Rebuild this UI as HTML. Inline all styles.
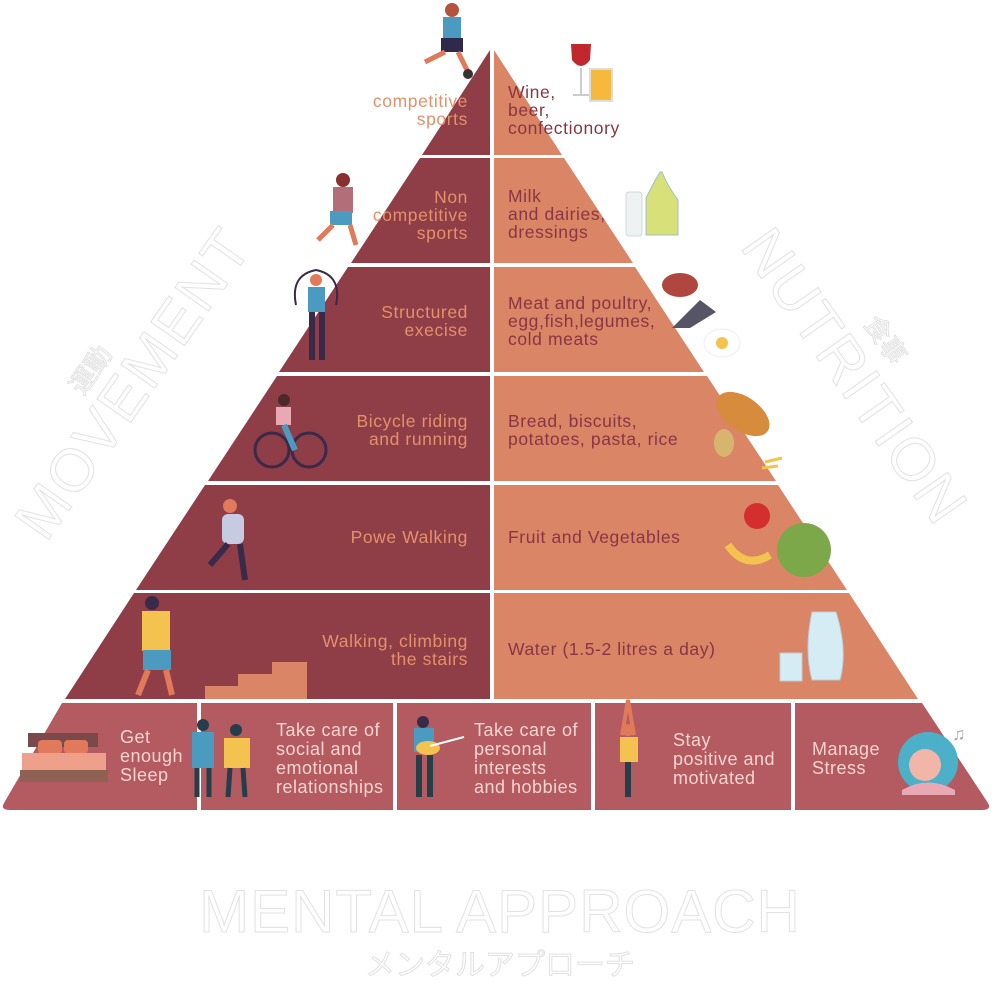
<!DOCTYPE html>
<html><head><meta charset="utf-8"><style>
html,body{margin:0;padding:0;background:#fff;width:992px;height:984px;overflow:hidden}
svg{display:block}
text{font-family:"Liberation Sans","Noto Sans CJK JP",sans-serif}
.l{fill:#e3916c;font-size:17.5px;letter-spacing:0.6px;text-anchor:end}
.r{fill:#8a3543;font-size:17.5px;letter-spacing:0.6px}
.b{fill:#f7d3d0;font-size:18px;letter-spacing:0.5px}
.o{fill:none;stroke:#e2e2e2;stroke-width:1}
</style></head><body>
<svg width="992" height="984" viewBox="0 0 992 984" xmlns="http://www.w3.org/2000/svg">
<!-- watermarks -->
<text class="o" font-size="60" letter-spacing="2" transform="translate(150,395) rotate(-55)" text-anchor="middle">MOVEMENT</text>
<text class="o" font-size="26" transform="translate(98,375) rotate(-55)" text-anchor="middle">運動</text>
<text class="o" font-size="60" letter-spacing="2" transform="translate(838,388) rotate(55)" text-anchor="middle">NUTRITION</text>
<text class="o" font-size="26" transform="translate(878,345) rotate(55)" text-anchor="middle">食事</text>
<text class="o" font-size="60" x="500" y="932" text-anchor="middle" letter-spacing="1">MENTAL APPROACH</text>
<text class="o" font-size="30" x="500" y="975" text-anchor="middle">メンタルアプローチ</text>

<!-- left half -->
<g fill="#8f3d47">
<path d="M490,50 L490,155 L422,155 Z"/>
<path d="M420,158 L490,158 L490,263 L351,263 Z"/>
<path d="M348,267 L490,267 L490,372 L279,372 Z"/>
<path d="M277,376 L490,376 L490,481 L208,481 Z"/>
<path d="M205,485 L490,485 L490,590 L136,590 Z"/>
<path d="M134,593 L490,593 L490,699 L65,699 Z"/>
</g>
<g fill="#d98566">
<path d="M494,50 L494,155 L562,155 Z"/>
<path d="M494,158 L564,158 L633,263 L494,263 Z"/>
<path d="M494,267 L635,267 L704,372 L494,372 Z"/>
<path d="M494,376 L707,376 L776,481 L494,481 Z"/>
<path d="M494,485 L778,485 L847,590 L494,590 Z"/>
<path d="M494,593 L849,593 L918,699 L494,699 Z"/>
</g>
<!-- bottom -->
<g fill="#b35b60">
<path d="M62,703 L197,703 L197,810 L10,810 Q0,810 4,803 Z"/>
<rect x="201" y="703" width="192" height="107"/>
<rect x="397" y="703" width="194" height="107"/>
<rect x="595" y="703" width="196" height="107"/>
<path d="M795,703 L922,703 L988,803 Q992,810 982,810 L795,810 Z"/>
</g>

<!-- left labels -->
<text class="l" x="468" y="107">competitive</text><text class="l" x="468" y="125">sports</text>
<text class="l" x="468" y="203">Non</text><text class="l" x="468" y="221">competitive</text><text class="l" x="468" y="239">sports</text>
<text class="l" x="468" y="318">Structured</text><text class="l" x="468" y="336">execise</text>
<text class="l" x="468" y="427">Bicycle riding</text><text class="l" x="468" y="445">and running</text>
<text class="l" x="468" y="543">Powe Walking</text>
<text class="l" x="468" y="647">Walking, climbing</text><text class="l" x="468" y="665">the stairs</text>
<!-- right labels -->
<text class="r" x="508" y="98">Wine,</text><text class="r" x="508" y="116">beer,</text><text class="r" x="508" y="134">confectionory</text>
<text class="r" x="508" y="202">Milk</text><text class="r" x="508" y="220">and dairies,</text><text class="r" x="508" y="238">dressings</text>
<text class="r" x="508" y="309">Meat and poultry,</text><text class="r" x="508" y="327">egg,fish,legumes,</text><text class="r" x="508" y="345">cold meats</text>
<text class="r" x="508" y="427">Bread, biscuits,</text><text class="r" x="508" y="445">potatoes, pasta, rice</text>
<text class="r" x="508" y="543">Fruit and Vegetables</text>
<text class="r" x="508" y="655">Water (1.5-2 litres a day)</text>
<!-- bottom labels -->
<text class="b" x="120" y="743">Get</text><text class="b" x="120" y="762">enough</text><text class="b" x="120" y="781">Sleep</text>
<text class="b" x="276" y="736">Take care of</text><text class="b" x="276" y="755">social and</text><text class="b" x="276" y="774">emotional</text><text class="b" x="276" y="793">relationships</text>
<text class="b" x="474" y="736">Take care of</text><text class="b" x="474" y="755">personal</text><text class="b" x="474" y="774">interests</text><text class="b" x="474" y="793">and hobbies</text>
<text class="b" x="673" y="746">Stay</text><text class="b" x="673" y="765">positive and</text><text class="b" x="673" y="784">motivated</text>
<text class="b" x="812" y="755">Manage</text><text class="b" x="812" y="774">Stress</text>

<!-- simple illustrations -->
<path d="M205,699 L205,686 L238,686 L238,674 L272,674 L272,662 L307,662 L307,699 Z" fill="#d98566"/>
<g>
<circle cx="452" cy="10" r="7" fill="#b4543f"/><rect x="443" y="17" width="18" height="22" fill="#4b9bc0"/><rect x="441" y="38" width="22" height="14" fill="#2f2a4a"/><path d="M445,52 L425,62 M458,52 L468,72" stroke="#e07a5a" stroke-width="5"/><circle cx="468" cy="74" r="5" fill="#333"/>
<circle cx="343" cy="180" r="7" fill="#8a2f30"/><rect x="333" y="187" width="20" height="26" fill="#b26f7a"/><rect x="330" y="211" width="22" height="14" fill="#4b9bc0"/><path d="M333,225 L318,240 M350,225 L356,245" stroke="#e07a5a" stroke-width="5"/>
<path d="M296,305 Q290,275 316,270 Q342,275 336,305" stroke="#3a2a4a" stroke-width="2" fill="none"/><circle cx="316" cy="280" r="6" fill="#e07a5a"/><rect x="308" y="287" width="17" height="25" fill="#4b9bc0"/><path d="M312,312 L312,360 M322,312 L322,360" stroke="#3a2a4a" stroke-width="6"/>
<circle cx="272" cy="450" r="17" stroke="#3a2a4a" stroke-width="3" fill="none"/><circle cx="309" cy="450" r="17" stroke="#3a2a4a" stroke-width="3" fill="none"/><circle cx="284" cy="400" r="6" fill="#4a2a2a"/><rect x="276" y="407" width="15" height="18" fill="#e8a9b5"/><path d="M284,425 L295,450" stroke="#4b9bc0" stroke-width="6"/>
<circle cx="230" cy="506" r="7" fill="#e07a5a"/><rect x="222" y="514" width="22" height="30" rx="6" fill="#c6cbe2"/><path d="M228,544 L210,565 M240,544 L245,580" stroke="#3a2a4a" stroke-width="6"/>
<circle cx="152" cy="603" r="7" fill="#3a2a4a"/><rect x="142" y="611" width="28" height="40" fill="#f4c24f"/><rect x="143" y="650" width="28" height="20" fill="#4b9bc0"/><path d="M148,670 L138,695 M166,670 L172,695" stroke="#e07a5a" stroke-width="6"/>
<rect x="28" y="733" width="70" height="14" fill="#7a4a4a"/><rect x="38" y="740" width="24" height="14" rx="4" fill="#e07a5a"/><rect x="64" y="740" width="24" height="14" rx="4" fill="#e07a5a"/><rect x="22" y="753" width="84" height="18" fill="#eea08a"/><rect x="20" y="770" width="88" height="12" fill="#8f6155"/>
<rect x="192" y="732" width="22" height="36" fill="#4b9bc0"/><path d="M197,768 L197,797 M209,768 L209,797" stroke="#263d4a" stroke-width="5"/><circle cx="203" cy="725" r="6" fill="#263d4a"/>
<rect x="224" y="738" width="26" height="30" fill="#f4c24f"/><path d="M230,768 L228,797 M243,768 L245,797" stroke="#263d4a" stroke-width="5"/><circle cx="236" cy="730" r="6" fill="#263d4a"/>
<circle cx="423" cy="722" r="6" fill="#3a2a4a"/><rect x="414" y="728" width="20" height="24" fill="#4b9bc0"/><ellipse cx="428" cy="748" rx="12" ry="7" fill="#f4c24f"/><path d="M430,746 L464,737" stroke="#fff" stroke-width="2"/><path d="M419,755 L419,797 M430,755 L430,797" stroke="#263d4a" stroke-width="6"/>
<path d="M622,735 L628,700 L634,735" stroke="#e07a5a" stroke-width="4" fill="none"/><circle cx="628" cy="730" r="6" fill="#e07a5a"/><rect x="620" y="737" width="18" height="25" fill="#f4c24f"/><path d="M628,762 L628,797" stroke="#263d4a" stroke-width="6"/>
<circle cx="928" cy="762" r="30" fill="#4bb0c8"/><circle cx="925" cy="765" r="16" fill="#f2b6a8"/><path d="M902,790 Q928,775 955,790 L955,795 L902,795 Z" fill="#e8a9b5"/>
<text x="952" y="740" font-size="18" fill="#aaa">♫</text>
<path d="M571,44 L591,44 L590,60 Q581,72 572,60 Z" fill="#c0282d"/><path d="M581,68 L581,94 M573,95 L589,95" stroke="#ccc" stroke-width="2"/>
<rect x="590" y="69" width="22" height="32" fill="#f6b93b" stroke="#ddd" stroke-width="2"/>
<rect x="626" y="192" width="16" height="44" rx="3" fill="#eef2f2" stroke="#cfd8da"/><path d="M646,235 L646,198 Q655,180 660,172 L662,172 Q667,185 678,200 L678,235 Z" fill="#d8e07a" stroke="#9ec0c8"/>
<ellipse cx="680" cy="285" rx="18" ry="12" fill="#b0463e"/><path d="M672,328 L700,300 L716,312 L690,328 Z" fill="#556"/><ellipse cx="722" cy="343" rx="18" ry="14" fill="#fff" stroke="#eee"/><circle cx="722" cy="343" r="6" fill="#f4c24f"/>
<ellipse cx="743" cy="414" rx="30" ry="17" transform="rotate(35 743 414)" fill="#d78b3c"/><ellipse cx="724" cy="443" rx="10" ry="14" fill="#d8b56e"/><path d="M765,462 L782,458 M762,468 L778,466" stroke="#f4c24f" stroke-width="3"/>
<circle cx="757" cy="516" r="13" fill="#d52e2e"/><path d="M728,545 Q745,570 770,555" stroke="#f4c24f" stroke-width="8" fill="none"/><circle cx="804" cy="550" r="27" fill="#7ca84a"/>
<rect x="780" y="653" width="22" height="28" fill="#d5ecf5" stroke="#bcd"/><path d="M812,612 L836,612 Q848,650 840,680 L812,680 Q804,650 812,612 Z" fill="#d5ecf5" stroke="#bcd"/>
</g>
</svg>
</body></html>
